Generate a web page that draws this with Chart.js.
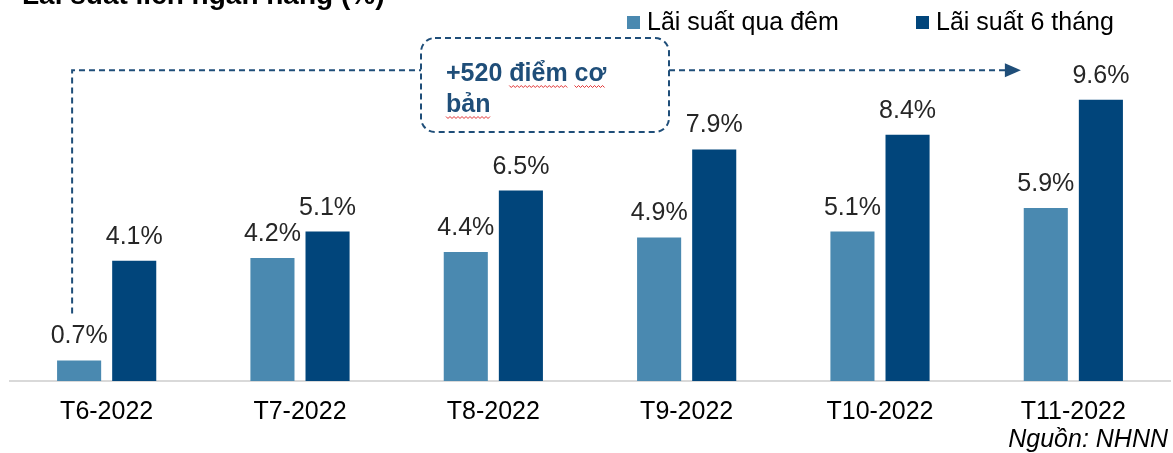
<!DOCTYPE html>
<html>
<head>
<meta charset="utf-8">
<script src="https://cdn.jsdelivr.net/npm/chart.js@4/dist/chart.umd.min.js"></script>
<style>
  html, body { margin: 0; padding: 0; background: #fff; }
  #wrap { width: 1173px; height: 453px; position: relative; }
</style>
</head>
<body>
<div id="wrap"><canvas id="rateChart"></canvas></div>
<script>
const FONT = "'Liberation Sans', Arial, sans-serif";

const months = ["T6-2022", "T7-2022", "T8-2022", "T9-2022", "T10-2022", "T11-2022"];
const overnight = [0.7, 4.2, 4.4, 4.9, 5.1, 5.9];
const sixMonth = [4.1, 5.1, 6.5, 7.9, 8.4, 9.6];

const seriesNames = ["Lãi suất qua đêm", "Lãi suất 6 tháng"];
const seriesColors = ["#4a89b0", "#01457b"];
const titleText = "Lãi suất liên ngân hàng (%)";
const noteText = "+520 điểm cơ";
const noteText2 = "bản";
const sourceText = "Nguồn: NHNN";

// Value labels above each bar
const barLabels = {
  id: "barLabels",
  afterDatasetsDraw(chart) {
    const ctx = chart.ctx;
    ctx.save();
    ctx.font = "25px " + FONT;
    ctx.fillStyle = "#262626";
    ctx.textAlign = "center";
    ctx.textBaseline = "alphabetic";
    chart.data.datasets.forEach((ds, i) => {
      chart.getDatasetMeta(i).data.forEach((bar, j) => {
        ctx.fillText(ds.data[j].toFixed(1) + "%", bar.x, bar.y - 17);
      });
    });
    ctx.restore();
  }
};

// Title, legend, annotation box and source
const extras = {
  id: "extras",
  afterDraw(chart) {
    const ctx = chart.ctx;
    const y = chart.scales.y;
    const first = chart.getDatasetMeta(0).data[0];
    const lastDark = chart.getDatasetMeta(1).data[5];

    ctx.save();
    // cut-off title at the very top
    ctx.font = "bold 28px " + FONT;
    ctx.fillStyle = "#000";
    ctx.textAlign = "left";
    ctx.fillText(titleText, 22, 4);

    // legend
    ctx.font = "25px " + FONT;
    ctx.textBaseline = "alphabetic";
    const legendX = [627, 916];
    seriesNames.forEach((name, i) => {
      ctx.fillStyle = seriesColors[i];
      ctx.fillRect(legendX[i], 16, 13, 13);
      ctx.fillStyle = "#000";
      ctx.fillText(name, legendX[i] + 20, 30);
    });

    // dashed bracket
    const lineY = y.getPixelForValue(10.6);
    const lx = first.x - 7;
    const boxL = 421, boxR = 669, boxT = 38, boxB = 132;
    ctx.strokeStyle = "#1f4e79";
    ctx.lineWidth = 2;
    ctx.setLineDash([6, 4]);
    ctx.beginPath();
    ctx.moveTo(lx, first.y - 47);
    ctx.lineTo(lx, lineY);
    ctx.lineTo(boxL, lineY);
    ctx.moveTo(boxR, lineY);
    const arrowEnd = lastDark.x - 80;
    ctx.lineTo(arrowEnd - 15, lineY);
    ctx.stroke();
    ctx.beginPath();
    ctx.roundRect(boxL, boxT, boxR - boxL, boxB - boxT, 14);
    ctx.stroke();
    ctx.setLineDash([]);
    ctx.fillStyle = "#1f4e79";
    ctx.beginPath();
    ctx.moveTo(arrowEnd, lineY);
    ctx.lineTo(arrowEnd - 16, lineY - 7);
    ctx.lineTo(arrowEnd - 16, lineY + 7);
    ctx.closePath();
    ctx.fill();

    // note text
    ctx.font = "bold 25px " + FONT;
    ctx.fillStyle = "#1f4e79";
    ctx.fillText(noteText, 446, 81);
    ctx.fillText(noteText2, 446, 112);

    // red spell-check squiggles
    const squiggle = (x0, x1, yy) => {
      ctx.beginPath();
      ctx.strokeStyle = "#e03030";
      ctx.lineWidth = 1;
      for (let x = x0, k = 0; x <= x1; x += 2, k++) {
        const py = yy + (k % 2 ? 1.5 : -0.5);
        if (k === 0) ctx.moveTo(x, py); else ctx.lineTo(x, py);
      }
      ctx.stroke();
    };
    const pre = ctx.measureText("+520 ").width;
    const w1 = ctx.measureText("điểm").width;
    const pre2 = ctx.measureText("+520 điểm ").width;
    const w2 = ctx.measureText("cơ").width;
    squiggle(446 + pre, 446 + pre + w1, 86);
    squiggle(446 + pre2, 446 + pre2 + w2, 86);
    squiggle(446, 446 + ctx.measureText(noteText2).width, 117);

    // source
    ctx.font = "italic 25px " + FONT;
    ctx.fillStyle = "#000";
    ctx.textAlign = "right";
    ctx.fillText(sourceText, 1168, 447);
    ctx.restore();
  }
};

new Chart(document.getElementById("rateChart"), {
  type: "bar",
  data: {
    labels: months,
    datasets: [
      { label: seriesNames[0], data: overnight, backgroundColor: seriesColors[0] },
      { label: seriesNames[1], data: sixMonth, backgroundColor: seriesColors[1] }
    ]
  },
  options: {
    responsive: true,
    maintainAspectRatio: false,
    animation: false,
    categoryPercentage: 0.57,
    barPercentage: 0.8,
    layout: { padding: { left: 10, right: 3, top: 0, bottom: 10 } },
    plugins: {
      legend: { display: false },
      tooltip: { enabled: false }
    },
    scales: {
      x: {
        grid: { display: false, drawTicks: false },
        border: { display: true, color: "#d9d9d9", width: 2 },
        ticks: { color: "#000", padding: 16, font: { family: FONT, size: 25 }, maxRotation: 0 }
      },
      y: {
        display: false,
        min: 0,
        max: 13
      }
    }
  },
  plugins: [barLabels, extras]
});
</script>
</body>
</html>
